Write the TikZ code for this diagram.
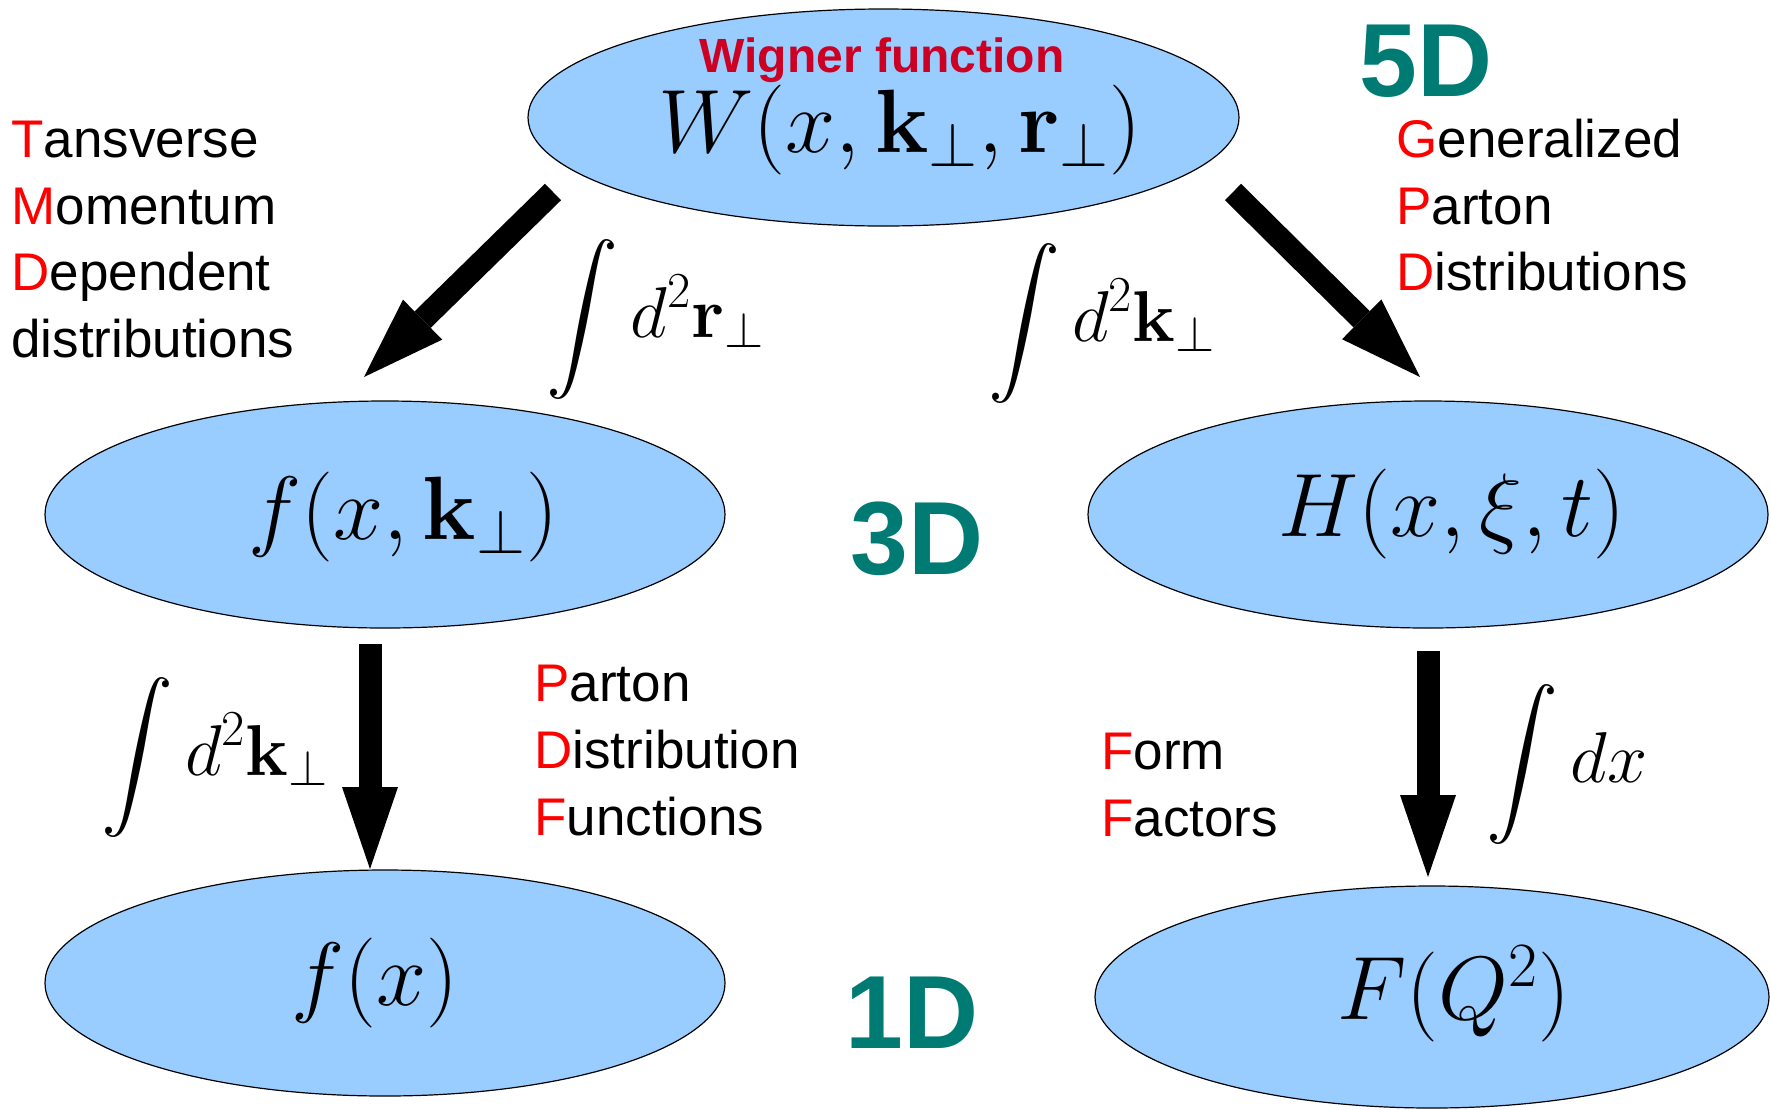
\RequirePackage{fix-cm}
\documentclass[tikz,border=0pt]{standalone}
\usepackage{amsmath}
\usepackage[no-math]{fontspec}
\DeclareFontFamily{OMX}{cmex}{}
\DeclareFontShape{OMX}{cmex}{m}{n}{<-> cmex10}{}
\newfontfamily\sansfam{Liberation Sans}
\usetikzlibrary{shapes.geometric,arrows.meta}
\definecolor{ellblue}{RGB}{153,204,255}
\definecolor{dimteal}{RGB}{0,123,116}
\definecolor{wred}{RGB}{204,0,34}
\definecolor{lred}{RGB}{255,0,0}
\newcommand{\rl}[1]{\textcolor{lred}{#1}}
\begin{document}
\begin{tikzpicture}[x=0.5pt,y=-0.5pt,
  blob/.style={ellipse, draw=black, line width=0.6pt, fill=ellblue, inner sep=0pt},
  fat/.style={line width=11.5pt, -{Triangle[length=41pt,width=28pt,line width=0pt]}},
  lbl/.style={anchor=base west, inner sep=0pt, font=\sansfam\fontsize{26.5}{30}\selectfont},
  dimlbl/.style={anchor=base, inner sep=0pt, text=dimteal, font=\sansfam\bfseries\fontsize{52}{56}\selectfont},
  formula/.style={inner sep=0pt, font=\fontsize{45}{52}\selectfont},
  integ/.style={inner sep=0pt, font=\fontsize{36}{40}\selectfont},
]
\useasboundingbox (0,0) rectangle (1771,1109);

% ellipses
\node[blob, minimum width=355.5pt, minimum height=108.5pt] (W) at (883.5,117.5) {};
\node[blob, minimum width=340pt, minimum height=113.5pt] (TMD) at (385,514.5) {};
\node[blob, minimum width=340pt, minimum height=113.5pt] (GPD) at (1428,514.5) {};
\node[blob, minimum width=340pt, minimum height=113pt] (PDF) at (385,983) {};
\node[blob, minimum width=337pt, minimum height=111pt] (FF) at (1432,997) {};

% formulas
\node[anchor=base, inner sep=0pt, text=wred, font=\sansfam\bfseries\fontsize{24}{28}\selectfont] (wig) at (882,72) {Wigner function};
\node[formula] (Wf) at (900,130) {$W(x,\mathbf{k}_\perp,\mathbf{r}_\perp)$};
\node[formula] (ff) at (403,517) {$f(x,\mathbf{k}_\perp)$};
\node[formula] (Hf) at (1452,514) {$H(x,\xi,t)$};
\node[formula] (fx) at (375,983) {$f(x)$};
\node[formula] (Fq) at (1454,994) {$F(Q^2)$};

% dimension labels
\node[dimlbl] (d5) at (1426,96) {5D};
\node[dimlbl] (d3) at (917,574) {3D};
\node[dimlbl] (d1) at (912,1048) {1D};

% acronym texts
\node[lbl] (t1) at (11,157) {\rl{T}ansverse};
\node[lbl] (t2) at (11,224) {\rl{M}omentum};
\node[lbl] (t3) at (11,290) {\rl{D}ependent};
\node[lbl] (t4) at (11,357) {distributions};

\node[lbl] (g1) at (1396,157) {\rl{G}eneralized};
\node[lbl] (g2) at (1396,224) {\rl{P}arton};
\node[lbl] (g3) at (1396,290) {\rl{D}istributions};

\node[lbl] (p1) at (534,701) {\rl{P}arton};
\node[lbl] (p2) at (534,768) {\rl{D}istribution};
\node[lbl] (p3) at (534,835) {\rl{F}unctions};

\node[lbl] (f1) at (1101,769) {\rl{F}orm};
\node[lbl] (f2) at (1101,836) {\rl{F}actors};

% integrals
\node[integ] (i1) at (656,319) {$\displaystyle\int d^2\mathbf{r}_\perp$};
\node[integ] (i2) at (1102,323) {$\displaystyle\int d^2\mathbf{k}_\perp$};
\node[integ] (i3) at (215,757) {$\displaystyle\int d^2\mathbf{k}_\perp$};
\node[integ] (i4) at (1567,764) {$\displaystyle\int dx$};

% arrows
\coordinate (a1s) at (553,192); \coordinate (a1e) at (364,377);
\coordinate (a2s) at (1233,192); \coordinate (a2e) at (1420,377);
\coordinate (a3s) at (370,644); \coordinate (a3e) at (370,869);
\coordinate (a4s) at (1428,651); \coordinate (a4e) at (1428,877);
\draw[fat] (a1s) -- (a1e);
\draw[fat] (a2s) -- (a2e);
\draw[fat] (a3s) -- (a3e);
\draw[fat] (a4s) -- (a4e);
\end{tikzpicture}
\end{document}
